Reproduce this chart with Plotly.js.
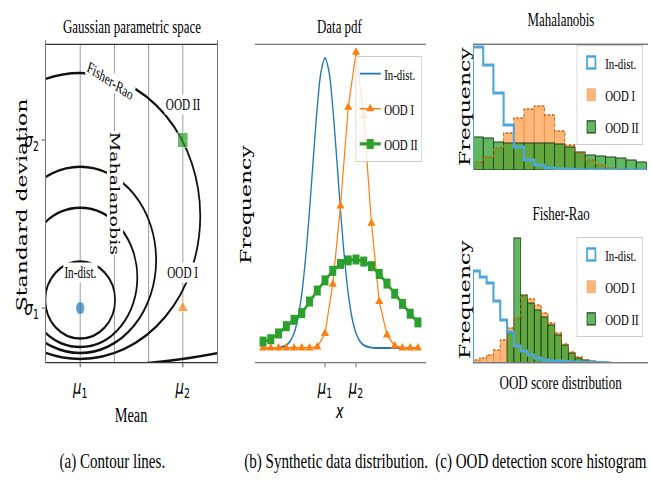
<!DOCTYPE html>
<html><head><meta charset="utf-8">
<script src="https://cdn.plot.ly/plotly-3.0.1.min.js"></script>
<style>
html,body{margin:0;padding:0;background:#fff;width:650px;height:483px;overflow:hidden}
#chart{width:929px;height:483px;transform:scaleX(0.6997);transform-origin:0 0}
</style>
</head><body><div id="chart"></div>
<script>
// ===== data: (a) Gaussian parametric space =====
const meanTickVals = [0, 3];
const meanTickText = ['<i>μ</i><sub>1</sub>', '<i>μ</i><sub>2</sub>'];
const meanGridVals = [-1, 1, 2, 4];
const stdTickVals = [1, 2];
const stdTickText = ['<i>σ</i><sub>1</sub>', '<i>σ</i><sub>2</sub>'];
const pointNames = ['In-dist.', 'OOD I', 'OOD II'];
const pointMean = [0, 3, 3];
const pointStd = [1, 1, 2];
const pointColors = ['#1f77b4', '#ff7f0e', '#2ca02c'];
const pointSymbols = ['circle', 'triangle-up', 'square'];
const contourCx = [0, 0, 0, 0, 0];
const contourCy = [1.048, 1.182, 1.286, 1.548, 1.845];
const contourRx = [1.02, 1.67, 2.22, 3.51, 11.4];
const contourRy = [0.229, 0.414, 0.554, 0.851, 1.19];

// ===== data: (b) synthetic data pdf =====
const pdfTickVals = [0, 1];
const pdfTickText = ['<i>μ</i><sub>1</sub>', '<i>μ</i><sub>2</sub>'];
const inX = [-2,-1.875,-1.75,-1.625,-1.5,-1.375,-1.25,-1.125,-1,-0.875,-0.75,-0.625,-0.5,-0.375,-0.25,-0.125,0,0.125,0.25,0.375,0.5,0.625,0.75,0.875,1,1.125,1.25,1.375,1.5,1.625,1.75,1.875,2,2.125,2.25,2.375,2.5,2.625,2.75,2.875,3];
const inY = [0,0,0,0,0.01,0.04,0.1,0.23,0.51,1.02,1.87,3.13,4.75,6.58,8.3,9.55,10,9.55,8.3,6.58,4.75,3.13,1.87,1.02,0.51,0.23,0.1,0.04,0.01,0,0,0,0,0,0,0,0,0,0,0,0];
const oodX = [-2,-1.75,-1.5,-1.25,-1,-0.75,-0.5,-0.25,0,0.25,0.5,0.75,1,1.25,1.5,1.75,2,2.25,2.5,2.75,3];
const ood1Y = [0,0,0,0,0,0,0,0.03,0.5,2.2,4.9,8.3,10.2,8.0,4.3,1.6,0.45,0.07,0,0,0];
const ood2Y = [0.22,0.3,0.5,0.75,0.97,1.2,1.6,1.98,2.33,2.66,2.9,3.02,3.05,2.98,2.82,2.55,2.22,1.87,1.52,1.18,0.88];

// ===== data: (c) OOD score histograms (bin heights) =====
const mahaIn   = [123,105,77,45,23,10,5,2,1,0.5,0,0,0,0,0,0,0];
const mahaOod1 = [8,13,22,37,52,61,64,55,39,25,17,10,5,2,1,0,0];
const mahaOod2 = [33,32,28,27,27,27,27,27,26,23,18,15,14,13,12,10,8];
const frIn   = [92,86,80,62,43,31,17,12,8,5,3,2,2,1.5,1,1,0.8,0.6,0.4,0.3];
const frOod1 = [3,5,8,13,23,35,45,67,64,58,50,40,30,19,11,6,3,1,0,0];
const frOod2 = [0,0,0,0,0,30,125,68,60,53,46,38,28,18,10,5,3,2,1,0];
const seriesNames = ['In-dist.', 'OOD I', 'OOD II'];

// ===== helpers (positions given in pixels of the 650x483 picture) =====
const W = 650, H = 483;          // picture size
const RW = 929;                  // drawn width before the horizontal squeeze
const dX = (a, b) => [a / W, b / W];
const dY = (top, bottom) => [1 - bottom / H, 1 - top / H];
const centers = v => v.map((_, i) => i + 0.5);
function stepXY(v) {
  const x = [0], y = [0];
  v.forEach((val, i) => { x.push(i); y.push(val); });
  x.push(v.length); y.push(0);
  return {x, y};
}
const SERIF = 'Liberation Serif';
const WIDE = 'DejaVu Serif';
const BLUE = '#1f77b4', ORANGE = '#ff7f0e', GREEN = '#2ca02c';
const HBLUE = '#4ea6da';

const traces = [];
// (a) points
traces.push({
  type: 'scatter', mode: 'markers', x: pointMean, y: pointStd, xaxis: 'x', yaxis: 'y',
  marker: {color: pointColors, symbol: pointSymbols, size: [13, 14, 15]}, showlegend: false
});
// (b) pdf curves
traces.push({type: 'scatter', mode: 'lines', x: inX, y: inY, xaxis: 'x2', yaxis: 'y2', name: seriesNames[0],
  line: {color: BLUE, width: 1.9, shape: 'spline'}, legend: 'legend', legendgroup: 'b1'});
traces.push({type: 'scatter', mode: 'lines+markers', x: oodX, y: ood1Y, xaxis: 'x2', yaxis: 'y2', name: seriesNames[1],
  line: {color: ORANGE, width: 1.7}, marker: {symbol: 'triangle-up', size: 10, color: ORANGE},
  legend: 'legend', legendgroup: 'b2'});
traces.push({type: 'scatter', mode: 'lines+markers', x: oodX, y: ood2Y, xaxis: 'x2', yaxis: 'y2', name: seriesNames[2],
  line: {color: GREEN, width: 3.2}, marker: {symbol: 'square', size: 10, color: GREEN},
  legend: 'legend', legendgroup: 'b3'});

// (c) histograms
function histTraces(inV, o1V, o2V, xa, ya, lg) {
  const s1 = stepXY(inV), s2 = stepXY(o1V);
  return [
    {type: 'bar', x: [null], y: [null], xaxis: xa, yaxis: ya, name: seriesNames[0],
     marker: {color: 'rgba(255,255,255,0)', line: {color: HBLUE, width: 2.5}}, legend: lg, legendgroup: lg + 'a'},
    {type: 'bar', x: centers(o1V), y: o1V, width: 1, xaxis: xa, yaxis: ya, name: seriesNames[1],
     marker: {color: 'rgba(255,140,40,0.62)', line: {color: 'rgba(200,100,20,0.6)', width: 0.6}}, legend: lg, legendgroup: lg + 'b'},
    {type: 'bar', x: centers(o2V), y: o2V, width: 1, xaxis: xa, yaxis: ya, name: seriesNames[2],
     marker: {color: 'rgba(44,160,44,0.75)', line: {color: '#1d3d1d', width: 1.1}}, legend: lg, legendgroup: lg + 'c'},
    {type: 'scatter', mode: 'lines', x: s2.x, y: s2.y, xaxis: xa, yaxis: ya, showlegend: false,
     line: {color: '#c8600a', width: 1.3, dash: 'dot', shape: 'hv'}},
    {type: 'scatter', mode: 'lines', x: s1.x, y: s1.y, xaxis: xa, yaxis: ya, showlegend: false,
     line: {color: HBLUE, width: 3, shape: 'hv'}}
  ];
}
traces.push(...histTraces(mahaIn, mahaOod1, mahaOod2, 'x3', 'y3', 'legend2'));
traces.push(...histTraces(frIn, frOod1, frOod2, 'x4', 'y4', 'legend3'));

// contour shapes
const shapes = contourCx.map((cx, i) => ({
  type: 'circle', xref: 'x', yref: 'y', layer: 'between',
  x0: cx - contourRx[i], x1: cx + contourRx[i], y0: contourCy[i] - contourRy[i], y1: contourCy[i] + contourRy[i],
  line: {color: '#111', width: 2.5}
}));

function ann(text, px, py, opts) {
  return Object.assign({text, x: px / W, y: 1 - py / H, xref: 'paper', yref: 'paper', showarrow: false,
    xanchor: 'center', yanchor: 'middle', font: {family: SERIF, size: 18.5, color: '#000'}}, opts || {});
}
const f = (family, size) => ({family, size, color: '#000'});
const annotations = [
  ann('Gaussian parametric space', 132, 27),
  ann('Data pdf', 340, 27),
  ann('Mahalanobis', 561, 20),
  ann('Fisher-Rao', 561, 214),
  ann('Standard deviation', 22, 205, {textangle: -90, font: f(WIDE, 22)}),
  ann('Frequency', 245, 204, {textangle: -90, font: f(WIDE, 22)}),
  ann('Frequency', 464, 106, {textangle: -90, font: f(WIDE, 22)}),
  ann('Frequency', 464, 299, {textangle: -90, font: f(WIDE, 22)}),
  ann('Mean', 131, 415, {font: f(SERIF, 20.5)}),
  ann('<i>x</i>', 340, 411, {font: f('DejaVu Sans', 19)}),
  ann('OOD score distribution', 561, 382, {font: f(SERIF, 18.6)}),
  ann('(a) Contour lines.', 112, 461, {font: f(SERIF, 21.5)}),
  ann('(b) Synthetic data distribution.', 336, 461, {font: f(SERIF, 21.5)}),
  ann('(c) OOD detection score histogram', 541, 461, {font: f(SERIF, 21.5)}),
  ann('Fisher-Rao', 110, 81, {textangle: 25, bgcolor: '#fff', borderpad: 0, font: f(SERIF, 16)}),
  ann('Mahalanobis', 115, 193, {textangle: 90, bgcolor: '#fff', borderpad: 0, font: f(WIDE, 19)})
];
pointNames.forEach((n, i) => annotations.push({
  text: n, x: pointMean[i], y: pointStd[i] + 0.21, xref: 'x', yref: 'y', showarrow: false,
  bgcolor: '#fff', borderpad: 1, font: f(SERIF, 16)
}));

const frameA = {showline: true, mirror: true, linecolor: '#333', linewidth: 1.3, zeroline: false};
const frameG = {showline: true, mirror: true, linecolor: '#777', linewidth: 1.3, zeroline: false};
const tickFont = f('DejaVu Sans', 19);

function legendCfg(rightPx, topPx, gap) {
  return {x: rightPx / W, y: 1 - topPx / H, xanchor: 'right', yanchor: 'top', traceorder: 'grouped',
    tracegroupgap: gap, bgcolor: 'rgba(255,255,255,0.8)', bordercolor: '#cccccc', borderwidth: 1,
    itemwidth: 30, font: f(SERIF, 15.5)};
}

const layout = {
  width: RW, height: H, autosize: false, margin: {l: 0, r: 0, t: 0, b: 0}, paper_bgcolor: '#fff', plot_bgcolor: '#fff',
  barmode: 'overlay', bargap: 0, showlegend: true,
  xaxis: Object.assign({domain: dX(46, 217), range: [-1, 4], tickmode: 'array', tickvals: meanTickVals, ticktext: meanTickText,
    ticks: 'outside', ticklen: 4, tickcolor: '#333', ticklabelstandoff: 4, tickfont: tickFont,
    showgrid: true, gridcolor: '#999', gridwidth: 1.4,
    minor: {tickmode: 'array', tickvals: meanGridVals, showgrid: true, gridcolor: '#999', gridwidth: 1.4, ticks: ''}}, frameA),
  yaxis: Object.assign({domain: dY(45, 362), range: [0.679, 2.565], tickmode: 'array', tickvals: stdTickVals, ticktext: stdTickText,
    ticks: 'outside', ticklen: 5, tickcolor: '#333', tickfont: tickFont, showgrid: false}, frameA),
  xaxis2: Object.assign({domain: dX(255, 426), range: [-2.26, 3.26], tickmode: 'array', tickvals: pdfTickVals, ticktext: pdfTickText,
    ticks: 'outside', ticklen: 4, tickcolor: '#555', ticklabelstandoff: 4, tickfont: tickFont, showgrid: false}, frameG),
  yaxis2: Object.assign({domain: dY(43, 363), range: [-0.52, 10.52], showticklabels: false, ticks: '', showgrid: false}, frameG),
  xaxis3: Object.assign({domain: dX(473, 648), range: [0, 17.16], showticklabels: false, ticks: '', showgrid: false}, frameG),
  yaxis3: Object.assign({domain: dY(40, 170), range: [0, 130], showticklabels: false, ticks: '', showgrid: false}, frameG),
  xaxis4: Object.assign({domain: dX(473, 648), range: [0, 25.7], showticklabels: false, ticks: '', showgrid: false}, frameG),
  yaxis4: Object.assign({domain: dY(233, 363), range: [0, 130], showticklabels: false, ticks: '', showgrid: false}, frameG),
  legend: legendCfg(422, 56, 12),
  legend2: legendCfg(643, 45, 9),
  legend3: legendCfg(643, 237, 9),
  shapes, annotations
};

Plotly.newPlot('chart', traces, layout, {staticPlot: true, displayModeBar: false});
</script></body></html>
